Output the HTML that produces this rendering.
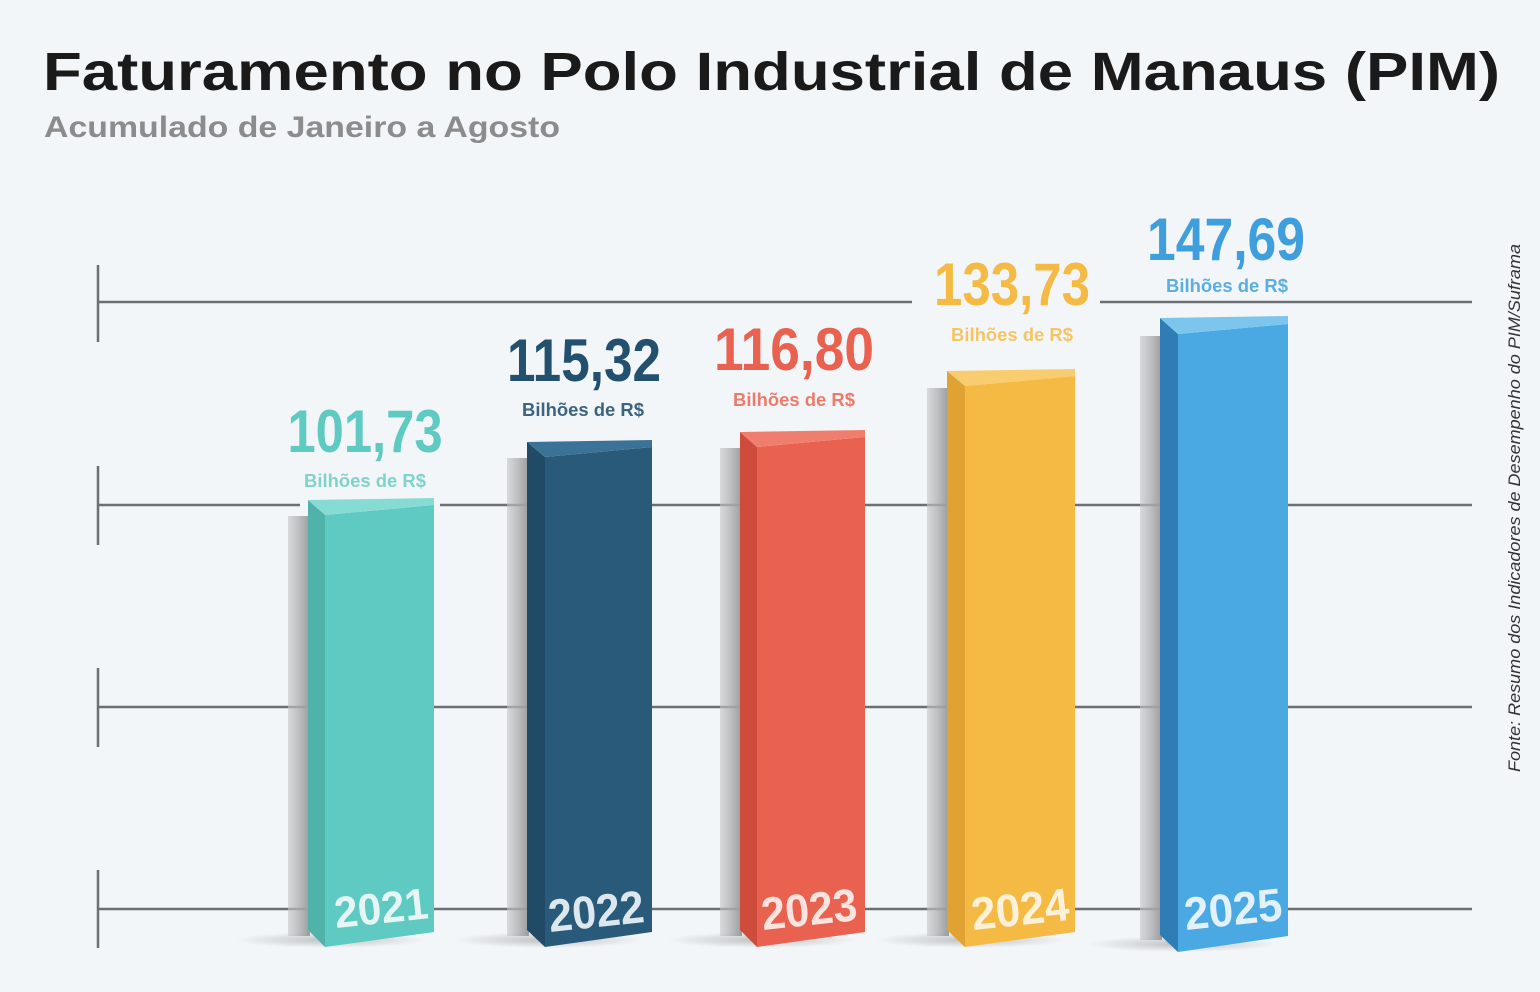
<!DOCTYPE html>
<html><head><meta charset="utf-8"><style>
html,body{margin:0;padding:0;background:#f3f6f8;}
svg{display:block}
</style></head><body>
<svg width="1540" height="992" viewBox="0 0 1540 992" xmlns="http://www.w3.org/2000/svg" font-family="Liberation Sans, sans-serif">
<defs>
<radialGradient id="sh" cx="0.5" cy="0.5" r="0.5"><stop offset="0" stop-color="#000" stop-opacity="0.22"/><stop offset="1" stop-color="#000" stop-opacity="0"/></radialGradient>
<linearGradient id="gs" x1="0" x2="1"><stop offset="0" stop-color="#c4c5c7" stop-opacity="0.6"/><stop offset="1" stop-color="#999a9c"/></linearGradient>
</defs>
<rect width="1540" height="992" fill="#f3f6f8"/>
<text x="43" y="90" font-size="54" font-weight="bold" fill="#1a1a1a" textLength="1457" lengthAdjust="spacingAndGlyphs">Faturamento no Polo Industrial de Manaus (PIM)</text>
<text x="44" y="137" font-size="30" font-weight="bold" fill="#8c8c8c" textLength="516" lengthAdjust="spacingAndGlyphs">Acumulado de Janeiro a Agosto</text>
<g stroke="#6c6f74" stroke-width="2.5">
<line x1="98" y1="302" x2="1472" y2="302"/><line x1="98" y1="505" x2="1472" y2="505"/>
<line x1="98" y1="707" x2="1472" y2="707"/><line x1="98" y1="909" x2="1472" y2="909"/>
<line x1="98" y1="265" x2="98" y2="342"/><line x1="98" y1="466" x2="98" y2="545"/>
<line x1="98" y1="668" x2="98" y2="747"/><line x1="98" y1="870" x2="98" y2="948"/>
</g>
<rect x="912" y="290" width="188" height="24" fill="#f3f6f8"/>
<rect x="300" y="493" width="140" height="20" fill="#f3f6f8"/>

<g>
<ellipse cx="330" cy="940" rx="95" ry="8" fill="url(#sh)"/>
<rect x="288" y="516" width="22" height="420" fill="url(#gs)"/>
<polygon points="308,500 325,515 325,947 308,930" fill="#4fb3aa"/>
<polygon points="325,515 434,505 434,932 325,947" fill="#5ecac1"/>
<polygon points="308,500 434,498 434,505 325,515" fill="#86dbd3"/>
<text font-size="44" font-weight="bold" fill="#e6f6f4" transform="translate(336,928) rotate(-6)" textLength="94" lengthAdjust="spacingAndGlyphs">2021</text>
</g>
<g>
<ellipse cx="548" cy="940" rx="95" ry="8" fill="url(#sh)"/>
<rect x="507" y="458" width="22" height="478" fill="url(#gs)"/>
<polygon points="527,442 545,457 545,947 527,930" fill="#214a66"/>
<polygon points="545,457 652,447 652,932 545,947" fill="#2a5a7a"/>
<polygon points="527,442 652,440 652,447 545,457" fill="#3a7397"/>
<text font-size="46" font-weight="bold" fill="#dde7ee" transform="translate(550,932) rotate(-6)" textLength="96" lengthAdjust="spacingAndGlyphs">2022</text>
</g>
<g>
<ellipse cx="762" cy="940" rx="95" ry="8" fill="url(#sh)"/>
<rect x="720" y="448" width="22" height="488" fill="url(#gs)"/>
<polygon points="740,432 757,447 757,947 740,930" fill="#cf4c3d"/>
<polygon points="757,447 865,437 865,932 757,947" fill="#e9614f"/>
<polygon points="740,432 865,430 865,437 757,447" fill="#f07e6e"/>
<text font-size="46" font-weight="bold" fill="#fbe3df" transform="translate(763,930) rotate(-6)" textLength="96" lengthAdjust="spacingAndGlyphs">2023</text>
</g>
<g>
<ellipse cx="970" cy="940" rx="95" ry="8" fill="url(#sh)"/>
<rect x="927" y="388" width="22" height="548" fill="url(#gs)"/>
<polygon points="947,371 965,386 965,947 947,930" fill="#e0a232"/>
<polygon points="965,386 1075,376 1075,932 965,947" fill="#f5ba44"/>
<polygon points="947,371 1075,369 1075,376 965,386" fill="#f8cd70"/>
<text font-size="46" font-weight="bold" fill="#fdf1da" transform="translate(973,930) rotate(-6)" textLength="98" lengthAdjust="spacingAndGlyphs">2024</text>
</g>
<g>
<ellipse cx="1182" cy="944" rx="95" ry="8" fill="url(#sh)"/>
<rect x="1140" y="336" width="22" height="604" fill="url(#gs)"/>
<polygon points="1160,318 1178,334 1178,952 1160,935" fill="#2f7db4"/>
<polygon points="1178,334 1288,324 1288,936 1178,952" fill="#4aa9e2"/>
<polygon points="1160,318 1288,316 1288,324 1178,334" fill="#7cc6ee"/>
<text font-size="46" font-weight="bold" fill="#e2f1fb" transform="translate(1186,930) rotate(-6)" textLength="98" lengthAdjust="spacingAndGlyphs">2025</text>
</g>

<g font-weight="bold" text-anchor="middle">
<text x="365" y="452" font-size="60" fill="#5ecac1" textLength="155" lengthAdjust="spacingAndGlyphs">101,73</text>
<text x="365" y="487" font-size="18" fill="#7fd3cc" textLength="122" lengthAdjust="spacingAndGlyphs">Bilhões de R$</text>
<text x="584" y="381" font-size="60" fill="#23506e" textLength="154" lengthAdjust="spacingAndGlyphs">115,32</text>
<text x="583" y="416" font-size="18" fill="#3c6480" textLength="122" lengthAdjust="spacingAndGlyphs">Bilhões de R$</text>
<text x="794" y="370" font-size="60" fill="#e9614f" textLength="160" lengthAdjust="spacingAndGlyphs">116,80</text>
<text x="794" y="406" font-size="18" fill="#ec7b6c" textLength="122" lengthAdjust="spacingAndGlyphs">Bilhões de R$</text>
<text x="1012" y="305" font-size="60" fill="#f5ba44" textLength="156" lengthAdjust="spacingAndGlyphs">133,73</text>
<text x="1012" y="341" font-size="18" fill="#f5c565" textLength="122" lengthAdjust="spacingAndGlyphs">Bilhões de R$</text>
<text x="1226" y="260" font-size="60" fill="#3f9fdc" textLength="158" lengthAdjust="spacingAndGlyphs">147,69</text>
<text x="1227" y="292" font-size="18" fill="#5aaee2" textLength="122" lengthAdjust="spacingAndGlyphs">Bilhões de R$</text>
</g>
<text font-size="17" font-style="italic" fill="#333" transform="translate(1520,772) rotate(-90)" textLength="528" lengthAdjust="spacingAndGlyphs">Fonte: Resumo dos Indicadores de Desempenho do PIM/Suframa</text>
</svg>
</body></html>
